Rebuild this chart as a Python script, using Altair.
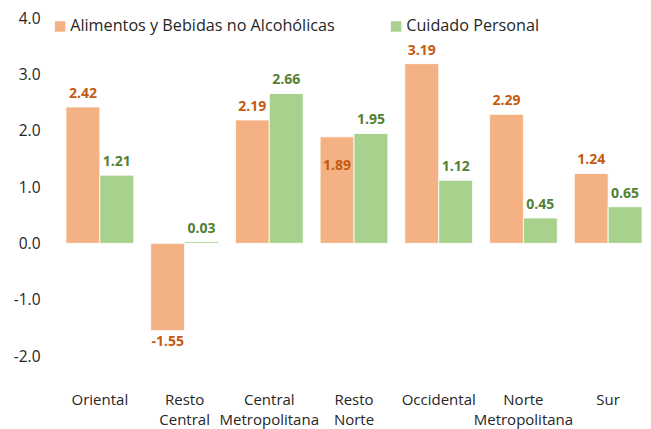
import altair as alt
import pandas as pd

regions = ["Oriental", "Resto Central", "Central Metropolitana", "Resto Norte",
           "Occidental", "Norte Metropolitana", "Sur"]
series = ["Alimentos y Bebidas no Alcohólicas", "Cuidado Personal"]
alimentos = [2.42, -1.55, 2.19, 1.89, 3.19, 2.29, 1.24]
cuidado = [1.21, 0.03, 2.66, 1.95, 1.12, 0.45, 0.65]
y_ticks = [-2, -1, 0, 1, 2, 3, 4]

bar_colors = ["#F4B183", "#A9D18E"]
label_colors = ["#C55A11", "#538135"]
FONT = "Open Sans"

rows = []
for r, a, c in zip(regions, alimentos, cuidado):
    rows.append({"region": r, "series": series[0], "value": a})
    rows.append({"region": r, "series": series[1], "value": c})
df = pd.DataFrame(rows)
df["label"] = df["value"].map(lambda v: f"{v:.2f}")
# one label sits inside its bar in the original
df["inside"] = (df["region"] == "Resto Norte") & (df["series"] == series[0])

x_scale = alt.Scale(paddingInner=0.2, paddingOuter=0.053, align=0.89)
x_enc = alt.X("region:N", sort=regions, scale=x_scale,
              axis=alt.Axis(title=None, orient="bottom", domain=False, ticks=False,
                            labelAngle=0, labelPadding=36, labelFontSize=15,
                            labelFont=FONT, labelColor="#262626", labelLineHeight=20,
                            labelExpr="split(datum.label, ' ')"))
xo_enc = alt.XOffset("series:N", sort=series, scale=alt.Scale(paddingInner=0, paddingOuter=0))
y_enc = alt.Y("value:Q", scale=alt.Scale(domain=[-2, 4], nice=False, zero=True),
              axis=alt.Axis(title=None, values=y_ticks, format=".1f", grid=False,
                            domain=False, ticks=False, labelPadding=18,
                            labelFontSize=15.5, labelFont=FONT, labelColor="#262626",
                            labelExpr="replace(datum.label, '\u2212', '-')"))

base = alt.Chart(df)

bars = base.mark_bar(stroke="white", strokeWidth=0.8).encode(
    x=x_enc, xOffset=xo_enc, y=y_enc,
    color=alt.Color("series:N", sort=series,
                    scale=alt.Scale(domain=series, range=bar_colors),
                    legend=alt.Legend(title=None, orient="none", legendX=-6, legendY=0,
                                      direction="horizontal", columns=2,
                                      columnPadding=53, symbolType="square",
                                      symbolSize=110, symbolStrokeWidth=0,
                                      labelFont=FONT, labelFontSize=16.2,
                                      labelColor="#262626", labelOffset=2,
                                      padding=0, labelLimit=400))
)

lab_color = alt.condition(alt.datum.series == series[0],
                          alt.value(label_colors[0]), alt.value(label_colors[1]))
xl = alt.X("region:N", sort=regions)
xol = alt.XOffset("series:N", sort=series)

pos_labels = base.transform_filter(
    (alt.datum.value >= 0) & (alt.datum.inside == False)
).mark_text(baseline="bottom", dy=-6, fontWeight="bold", fontSize=14, font=FONT).encode(
    x=xl, xOffset=xol, y="value:Q", text="label:N", color=lab_color)

neg_labels = base.transform_filter(alt.datum.value < 0).mark_text(
    baseline="top", dy=4, fontWeight="bold", fontSize=14, font=FONT).encode(
    x=xl, xOffset=xol, y="value:Q", text="label:N", color=lab_color)

in_labels = base.transform_filter(alt.datum.inside == True).mark_text(
    baseline="top", dy=22, fontWeight="bold", fontSize=14, font=FONT).encode(
    x=xl, xOffset=xol, y="value:Q", text="label:N", color=lab_color)

chart = alt.layer(bars, pos_labels, neg_labels, in_labels).properties(
    width=585, height=338,
    autosize=alt.AutoSizeParams(type="none"),
    padding={"left": 50, "top": 10, "right": 0, "bottom": 73},
    background="white",
).configure_view(stroke=None)

chart.save("out.html", embed_options={"renderer": "svg", "actions": False})
